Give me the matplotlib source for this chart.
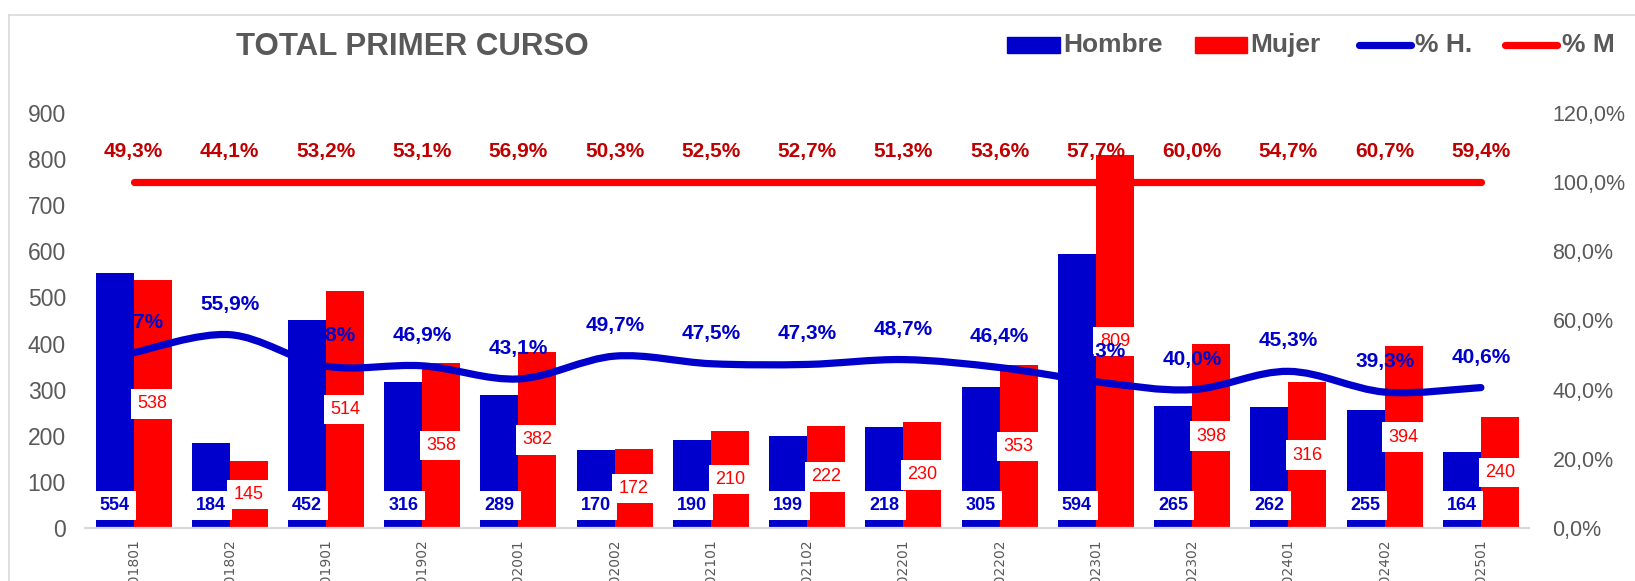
import numpy as np
import matplotlib
matplotlib.use("Agg")
import matplotlib.pyplot as plt
from matplotlib import font_manager as fm
from matplotlib.path import Path
from matplotlib.patches import PathPatch, Rectangle
from matplotlib.lines import Line2D
from matplotlib.ticker import FuncFormatter

# ---------------- data ----------------
categories = ["201801", "201802", "201901", "201902", "202001", "202002", "202101",
              "202102", "202201", "202202", "202301", "202302", "202401", "202402", "202501"]
hombre = [554, 184, 452, 316, 289, 170, 190, 199, 218, 305, 594, 265, 262, 255, 164]
mujer = [538, 145, 514, 358, 382, 172, 210, 222, 230, 353, 809, 398, 316, 394, 240]
pct_h = [50.7, 55.9, 46.8, 46.9, 43.1, 49.7, 47.5, 47.3, 48.7, 46.4, 42.3, 40.0, 45.3, 39.3, 40.6]
pct_m_line = [100.0, 100.0, 100.0, 100.0, 100.0, 100.0, 100.0, 100.0,
              100.0, 100.0, 100.0, 100.0, 100.0, 100.0, 100.0]
pct_m_labels = [49.3, 44.1, 53.2, 53.1, 56.9, 50.3, 52.5, 52.7, 51.3, 53.6, 57.7, 60.0, 54.7, 60.7, 59.4]
title = "TOTAL PRIMER CURSO"
legend_labels = ["Hombre", "Mujer", "% H.", "% M"]

# ---------------- style ----------------
names = {f.name for f in fm.fontManager.ttflist}
MAIN = "Liberation Sans Narrow" if "Liberation Sans Narrow" in names else "Liberation Sans"
plt.rcParams["font.family"] = [MAIN, "DejaVu Sans"]

BLUE = "#0000CC"
RED = "#FF0000"
DRED = "#C00000"
GRAY = "#595959"
LGRAY = "#D9D9D9"

W, H = 1635, 581
fig = plt.figure(figsize=(W / 100, H / 100), dpi=100)
fig.patch.set_facecolor("white")


def fx(px):
    return px / W


def fy(py):
    return 1 - py / H


# chart border
fig.add_artist(Line2D([fx(9), fx(9)], [fy(15), -0.1], color=LGRAY, lw=1.2, transform=fig.transFigure))
fig.add_artist(Line2D([fx(9), 1.1], [fy(15), fy(15)], color=LGRAY, lw=1.2, transform=fig.transFigure))

left_px, right_px, top_px, bot_px = 85.4, 1529, 113, 528
ax = fig.add_axes([fx(left_px), fy(bot_px), fx(right_px - left_px), (bot_px - top_px) / H])
ax2 = ax.twinx()

x = np.arange(len(categories))
bw = 0.395
ax.bar(x - bw / 2, hombre, width=bw, color=BLUE, zorder=2)
ax.bar(x + bw / 2, mujer, width=bw, color=RED, zorder=2)
ax.set_xlim(-0.5, len(categories) - 0.5)
ax.set_ylim(0, 900)
ax.set_yticks(range(0, 901, 100))
ax.set_xticks(x)
ax.set_xticklabels(categories, rotation=90, fontsize=10, color=GRAY, family="DejaVu Sans")
ax.tick_params(axis="x", length=0, pad=8)
ax.tick_params(axis="y", length=0, pad=14, labelsize=16.5, labelcolor=GRAY)
for s in ["top", "left", "right"]:
    ax.spines[s].set_visible(False)
    ax2.spines[s].set_visible(False)
ax.spines["bottom"].set_color(LGRAY)
ax.spines["bottom"].set_linewidth(1.6)
ax2.spines["bottom"].set_visible(False)

# bar labels
box = dict(boxstyle="square,pad=0.35", fc="white", ec="none")
for i in range(len(categories)):
    ax.text(x[i] - bw / 2, 49, str(hombre[i]), ha="center", va="center", fontsize=13,
            fontweight="bold", color=BLUE, bbox=box, zorder=4)
    ax.text(x[i] + bw / 2, mujer[i] / 2, str(mujer[i]), ha="center", va="center", fontsize=13,
            color=RED, bbox=box, zorder=4)

# secondary axis
ax2.set_ylim(0, 120)
ax2.set_yticks(range(0, 121, 20))
ax2.yaxis.set_major_formatter(FuncFormatter(lambda v, p: f"{v:.1f}".replace(".", ",") + "%"))
ax2.tick_params(axis="y", length=0, pad=17, labelsize=15.5, labelcolor=GRAY)

# smoothed blue line (Bezier through data points)
n = len(x)
verts = [(x[0], pct_h[0])]
codes = [Path.MOVETO]
for i in range(n - 1):
    i0, i3 = max(i - 1, 0), min(i + 2, n - 1)
    p0 = np.array([x[i0], pct_h[i0]])
    p1 = np.array([x[i], pct_h[i]])
    p2 = np.array([x[i + 1], pct_h[i + 1]])
    p3 = np.array([x[i3], pct_h[i3]])
    c1 = p1 + (p2 - p0) / 6
    c2 = p2 - (p3 - p1) / 6
    verts += [tuple(c1), tuple(c2), tuple(p2)]
    codes += [Path.CURVE4] * 3
ax2.add_patch(PathPatch(Path(verts, codes), fc="none", ec=BLUE, lw=5.2,
                        capstyle="round", joinstyle="round", zorder=3))
ax2.plot(x, pct_m_line, color=RED, lw=5.2, solid_capstyle="round", zorder=3)


def fmt(v):
    return f"{v:.1f}".replace(".", ",") + "%"


for i in range(n):
    ax2.annotate(fmt(pct_h[i]), (x[i], pct_h[i]), xytext=(0, 22), textcoords="offset points",
                 ha="center", va="center", fontsize=15, fontweight="bold", color=BLUE, zorder=6)
    ax2.annotate(fmt(pct_m_labels[i]), (x[i], pct_m_line[i]), xytext=(0, 22), textcoords="offset points",
                 ha="center", va="center", fontsize=15, fontweight="bold", color=DRED, zorder=6)

# title
fig.text(fx(412), fy(47), title, ha="center", va="center", fontsize=22.5, fontweight="bold", color=GRAY)

# legend (manual)
ly = 45
fig.add_artist(Rectangle((fx(1007), fy(53)), fx(53), 16 / H, color=BLUE, transform=fig.transFigure))
fig.add_artist(Rectangle((fx(1195), fy(53)), fx(52), 16 / H, color=RED, transform=fig.transFigure))
fig.add_artist(Line2D([fx(1359), fx(1411)], [fy(ly), fy(ly)], color=BLUE, lw=5.2,
                      solid_capstyle="round", transform=fig.transFigure))
fig.add_artist(Line2D([fx(1505), fx(1557)], [fy(ly), fy(ly)], color=RED, lw=5.2,
                      solid_capstyle="round", transform=fig.transFigure))
for lab, px in zip(legend_labels, [1063, 1250, 1415, 1562]):
    fig.text(fx(px), fy(ly), lab, ha="left", va="center", fontsize=19, fontweight="bold", color=GRAY)

fig.savefig("out.png", dpi=100)
